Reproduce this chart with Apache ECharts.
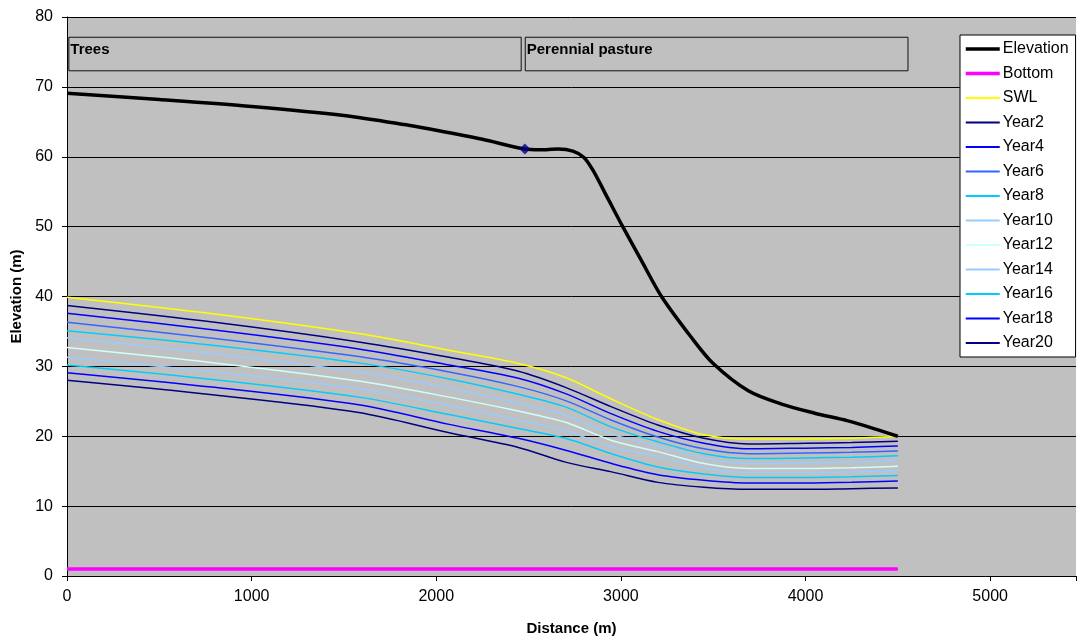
<!DOCTYPE html>
<html>
<head>
<meta charset="utf-8">
<script src="https://cdn.jsdelivr.net/npm/echarts@6/dist/echarts.min.js"></script>
<style>
  html, body { margin: 0; padding: 0; background: #fff; }
  #chart { width: 1079px; height: 641px; }
</style>
</head>
<body>
<div id="chart"></div>
<script>
var dom = document.getElementById("chart");
var myChart = echarts.init(dom);
var option;

// ground surface profile
var elevX = [0, 500, 1000, 1500, 1850, 2000, 2250, 2480, 2560, 2660, 2740, 2800, 2850, 2930, 3010, 3110, 3220, 3380, 3500, 3690, 3870, 4050, 4230, 4370, 4500];
var elevY = [69.1, 68.2, 67.2, 65.9, 64.5, 63.8, 62.5, 61.1, 61.0, 61.1, 60.8, 59.9, 58.0, 54.0, 50.0, 45.2, 40.0, 34.2, 30.4, 26.5, 24.6, 23.3, 22.2, 21.1, 20.0];

var bottomX = [0, 4500];
var bottomY = [1, 1];

// boundary point between the two land uses
var markerPt = [2480, 61.1];

// water level profiles share the same distances
var wlX = [0, 800, 1580, 2070, 2445, 2700, 2950, 3200, 3450, 3690, 4000, 4250, 4500];
var swl    = [39.9, 37.5, 34.7, 32.3, 30.4, 28.4, 25.3, 22.4, 20.2, 19.6, 19.6, 19.7, 20.0];
var year2  = [38.7, 36.3, 33.5, 31.3, 29.3, 27.0, 24.2, 21.6, 19.7, 18.9, 19.0, 19.1, 19.3];
var year4  = [37.6, 35.2, 32.5, 30.2, 28.3, 26.1, 23.2, 20.7, 19.0, 18.2, 18.3, 18.4, 18.6];
var year6  = [36.3, 34.0, 31.4, 29.2, 27.1, 25.1, 22.3, 19.9, 18.2, 17.5, 17.6, 17.7, 17.9];
var year8  = [35.1, 33.0, 30.5, 28.2, 26.0, 24.2, 21.3, 19.2, 17.5, 16.8, 16.9, 17.0, 17.2];
var year10 = [34.1, 31.8, 29.2, 26.9, 24.7, 23.0, 20.3, 18.6, 16.9, 16.1, 16.2, 16.3, 16.5];
var year12 = [32.7, 30.5, 27.9, 25.6, 23.6, 22.0, 19.4, 17.8, 16.1, 15.4, 15.4, 15.5, 15.7];
var year14 = [31.3, 29.2, 26.8, 24.4, 22.3, 20.8, 18.5, 17.1, 15.5, 14.8, 14.8, 14.9, 15.1];
var year16 = [30.2, 28.1, 25.6, 23.1, 21.1, 19.7, 17.5, 15.6, 14.6, 14.1, 14.1, 14.2, 14.4];
var year18 = [29.1, 27.0, 24.5, 21.7, 19.7, 18.0, 16.1, 14.5, 13.7, 13.3, 13.3, 13.4, 13.6];
var year20 = [28.0, 25.9, 23.4, 20.5, 18.4, 16.3, 14.9, 13.4, 12.7, 12.4, 12.4, 12.5, 12.6];

var yearNames = ['Year2', 'Year4', 'Year6', 'Year8', 'Year10', 'Year12', 'Year14', 'Year16', 'Year18', 'Year20'];
var yearData = [year2, year4, year6, year8, year10, year12, year14, year16, year18, year20];
var yearColors = ['#000080', '#0000FF', '#3366FF', '#00CCFF', '#99CCFF', '#CCFFFF', '#99CCFF', '#00CCFF', '#0000FF', '#000080'];

// land use zones (distance from/to, elevation from/to)
var zoneNames = ['Trees', 'Perennial pasture'];
var zoneX = [[10, 2460], [2482, 4555]];
var zoneY = [72.3, 77.1];

function pairs(xs, ys) {
    return xs.map(function (x, i) { return [x, ys[i]]; });
}

var font = 'Liberation Sans, Arial, sans-serif';

var series = [{
    name: 'Elevation',
    type: 'line',
    smooth: 0.3,
    symbol: 'none',
    color: '#000000',
    lineStyle: {width: 3.5, color: '#000000'},
    data: pairs(elevX, elevY),
    z: 5,
    markArea: {
        silent: true,
        itemStyle: {color: 'rgba(0,0,0,0)', borderColor: '#111', borderWidth: 1},
        label: {
            show: true,
            position: [2, 6],
            color: '#000',
            fontWeight: 'bold',
            fontSize: 15,
            fontFamily: font
        },
        data: zoneNames.map(function (n, i) {
            return [{name: n, coord: [zoneX[i][0], zoneY[1]]}, {coord: [zoneX[i][1], zoneY[0]]}];
        })
    }
}, {
    name: 'Bottom',
    type: 'line',
    symbol: 'none',
    color: '#FF00FF',
    lineStyle: {width: 3.5, color: '#FF00FF'},
    data: pairs(bottomX, bottomY)
}, {
    name: 'SWL',
    type: 'line',
    smooth: 0.3,
    symbol: 'none',
    color: '#FFFF00',
    lineStyle: {width: 1.5, color: '#FFFF00'},
    data: pairs(wlX, swl),
    z: 4
}];

yearNames.forEach(function (n, i) {
    series.push({
        name: n,
        type: 'line',
        smooth: 0.3,
        symbol: 'none',
        color: yearColors[i],
        lineStyle: {width: 1.5, color: yearColors[i]},
        data: pairs(wlX, yearData[i]),
        z: 3
    });
});

series.push({
    name: 'Boundary',
    type: 'scatter',
    symbol: 'diamond',
    symbolSize: 11,
    itemStyle: {color: '#000080'},
    data: [markerPt],
    z: 6
});

var legendData = [
    {name: 'Elevation', lineStyle: {width: 3.5}},
    {name: 'Bottom', lineStyle: {width: 3.5}},
    {name: 'SWL', lineStyle: {width: 2}}
].concat(yearNames.map(function (n) { return {name: n, lineStyle: {width: 2}}; }));

option = {
    animation: false,
    backgroundColor: '#ffffff',
    textStyle: {fontFamily: font},
    grid: {
        left: 67, top: 17, right: 0, bottom: 61,
        show: true, backgroundColor: '#C0C0C0', borderWidth: 0
    },
    legend: [{
        data: legendData,
        orient: 'vertical',
        left: 960,
        top: 35,
        itemWidth: 34,
        itemHeight: 14,
        itemGap: 8.5,
        padding: [6, 7, 6, 4],
        backgroundColor: '#ffffff',
        borderColor: '#000000',
        borderWidth: 1,
        borderRadius: 0,
        itemStyle: {opacity: 0},
        textStyle: {color: '#000', fontSize: 16, fontFamily: font, padding: [0, 0, 0, -2]}
    }],
    xAxis: {
        type: 'value',
        min: 0,
        max: 5465,
        interval: 1000,
        name: 'Distance (m)',
        nameLocation: 'middle',
        nameGap: 45,
        nameTextStyle: {fontWeight: 'bold', fontSize: 15, color: '#000', fontFamily: font},
        axisLine: {onZero: false, lineStyle: {color: '#000', width: 1}},
        axisTick: {show: true, length: 5, lineStyle: {color: '#000'}},
        axisLabel: {
            color: '#000', fontSize: 16, margin: 13, fontFamily: font,
            formatter: function (v) { return v % 1000 === 0 ? String(v) : ''; }
        },
        splitLine: {show: false}
    },
    yAxis: {
        type: 'value',
        min: 0,
        max: 80,
        interval: 10,
        name: 'Elevation (m)',
        nameLocation: 'middle',
        nameGap: 42,
        nameTextStyle: {fontWeight: 'bold', fontSize: 15, color: '#000', fontFamily: font},
        axisLine: {show: true, lineStyle: {color: '#000', width: 1}},
        axisTick: {show: true, length: 5, lineStyle: {color: '#000'}},
        axisLabel: {color: '#000', fontSize: 16, margin: 14, fontFamily: font},
        splitLine: {show: true, lineStyle: {color: '#000', width: 1}}
    },
    series: series
};

myChart.setOption(option);
</script>
</body>
</html>
